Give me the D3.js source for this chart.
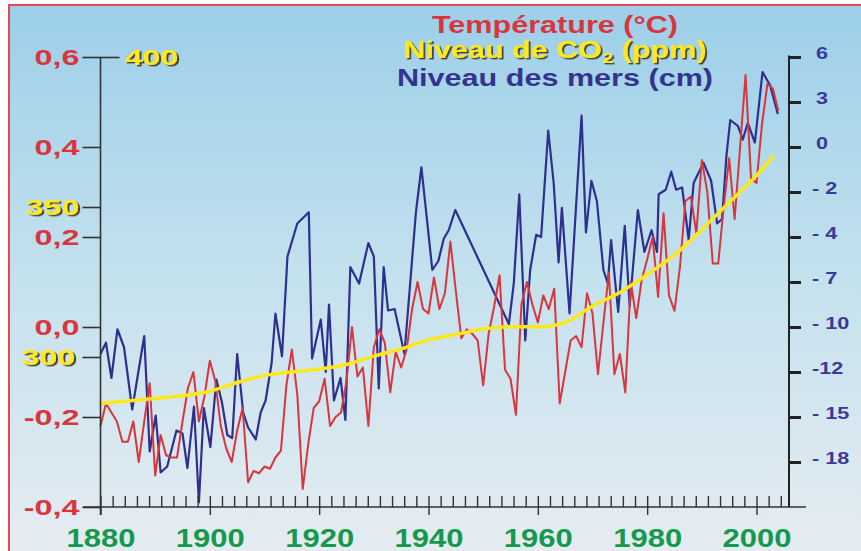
<!DOCTYPE html>
<html><head><meta charset="utf-8">
<script src="https://cdn.jsdelivr.net/npm/d3@7"></script>
<style>
html,body{margin:0;padding:0;background:#fff;}
svg{display:block;}
text{font-family:"Liberation Sans",Arial,sans-serif;font-weight:bold;}
</style></head><body>
<svg id="chart" width="861" height="551"></svg>
<script>
// ---------------- DATA ----------------
const tempYears = d3.range(1880, 2005);
const temperature = [
 -0.22,-0.17,-0.19,-0.21,-0.255,-0.255,-0.21,-0.30,-0.21,-0.125,
 -0.33,-0.24,-0.285,-0.29,-0.29,-0.21,-0.135,-0.10,-0.21,-0.155,
 -0.075,-0.12,-0.22,-0.27,-0.30,-0.23,-0.18,-0.345,-0.32,-0.325,
 -0.31,-0.315,-0.29,-0.275,-0.13,-0.05,-0.15,-0.36,-0.26,-0.18,
 -0.165,-0.115,-0.22,-0.20,-0.19,-0.12,0.00,-0.11,-0.09,-0.22,
 -0.045,-0.005,-0.035,-0.145,-0.055,-0.09,-0.05,0.04,0.10,0.04,
 0.03,0.11,0.04,0.075,0.19,0.08,-0.025,-0.005,-0.015,-0.03,
 -0.13,-0.015,0.045,0.115,-0.095,-0.115,-0.195,0.05,0.10,0.05,
 0.01,0.07,0.04,0.085,-0.17,-0.10,-0.03,-0.02,-0.045,0.075,
 0.03,-0.105,0.01,0.12,-0.105,-0.06,-0.145,0.10,0.02,0.105,
 0.15,0.20,0.067,0.253,0.07,0.036,0.134,0.28,0.29,0.208,
 0.371,0.30,0.141,0.141,0.267,0.375,0.24,0.40,0.56,0.33,
 0.32,0.45,0.54,0.53,0.48
];
const seaYears = [1880.0,1881.0,1882.0,1883.1,1884.3,1885.8,1888.0,1889.0,1890.1,1891.0,
 1892.2,1893.9,1895.0,1895.9,1897.1,1898.0,1898.9,1900.1,1901.2,1902.2,
 1903.2,1904.1,1905.0,1906.1,1907.0,1908.4,1909.3,1910.2,1911.3,1912.0,
 1913.2,1914.2,1916.0,1918.1,1918.7,1920.3,1921.2,1921.8,1922.7,1923.9,
 1924.8,1925.7,1927.3,1929.0,1930.0,1930.9,1931.8,1932.6,1933.8,1935.6,
 1937.7,1938.7,1940.7,1941.8,1942.8,1943.7,1944.9,1954.7,1955.6,1956.6,
 1957.7,1958.6,1959.7,1960.6,1961.9,1962.9,1963.8,1964.4,1965.8,1968.0,
 1968.8,1969.8,1970.8,1972.0,1972.8,1973.4,1974.7,1975.9,1976.8,1978.3,
 1979.5,1980.8,1981.8,1982.1,1983.4,1984.4,1985.3,1986.4,1987.6,1988.5,
 1990.3,1991.7,1992.8,1993.7,1994.5,1995.2,1996.6,1997.5,1998.4,1999.7,
 2001.1,2002.5,2003.9];
const seaLevels = [-11.2,-10.7,-12.4,-10.1,-10.9,-14.5,-10.4,-17.3,-14.9,-18.7,
 -18.3,-15.9,-16.1,-18.4,-14.3,-20.7,-14.4,-17.0,-12.5,-14.0,
 -16.2,-16.4,-11.2,-14.7,-15.7,-16.5,-14.7,-13.9,-11.6,-9.1,
 -11.3,-5.3,-3.4,-2.9,-11.4,-9.5,-12.0,-8.5,-13.9,-12.4,
 -15.2,-6.0,-7.1,-4.4,-5.3,-13.1,-6.0,-8.9,-8.8,-11.2,
 -2.9,-0.9,-6.2,-5.6,-4.1,-3.7,-2.8,-9.8,-7.1,-2.1,
 -10.6,-6.2,-3.9,-4.0,1.1,-1.6,-5.7,-2.7,-9.1,2.1,
 -3.8,-1.5,-2.4,-6.2,-7.1,-4.2,-9.0,-3.5,-8.6,-2.8,
 -5.0,-3.7,-5.0,-2.1,-1.9,-1.1,-1.9,-1.8,-4.2,-1.6,
 -0.7,-1.5,-3.4,-3.2,-0.4,1.8,1.4,0.5,1.6,0.3,
 5.0,4.1,2.2];
const co2Years = [1880,1885,1890,1895,1900,1905,1910,1915,1920,1925,1930,1935,1940,1945,1950,1955,1960,1965,1970,1975,1980,1985,1990,1995,2000,2003];
const co2Values = [284.5,285.3,286.2,287.1,288.6,291.5,293.8,295.0,296.0,297.5,300.3,302.7,305.7,307.5,309.3,310.1,310.0,311.5,317.0,321.5,327.5,334.0,342.5,351.5,360.5,366.8];

const tempTicks = [-0.4,-0.2,0,0.2,0.4,0.6];
const tempTickLabels = ["-0,4","-0,2","0,0","0,2","0,4","0,6"];
const co2Ticks = [300,350,400];
const seaTicks = [6,3,0,-2,-4,-7,-10,-12,-15,-18];
const seaTickLabels = ["6","3","0","- 2","- 4","- 7","- 10","-12","- 15","- 18"];
const yearTicks = [1880,1900,1920,1940,1960,1980,2000];
const legendLabels = ["Température (°C)","Niveau de CO","Niveau des mers (cm)"];

// ---------------- SCALES ----------------
const svg = d3.select("#chart");
const x = d3.scaleLinear().domain([1880,2000]).range([100.5,756.5]);
const yT = d3.scaleLinear().domain([-0.4,0.6]).range([507,57]);
const yC = d3.scaleLinear().domain([300,400]).range([357,57]);
const yS = d3.scaleLinear().domain(seaTicks).range(seaTicks.map((d,i)=>57+i*45));

const RED="#d8363d", NAVY="#2f2f8f", YEL="#ffe81a", GREEN="#15994d", AX="#333";

// ---------------- BACKGROUND ----------------
const defs = svg.append("defs");
const g = defs.append("linearGradient").attr("id","bg").attr("x1",0).attr("y1",0).attr("x2",0).attr("y2",1);
g.append("stop").attr("offset","0%").attr("stop-color","#9ccfe9");
g.append("stop").attr("offset","50%").attr("stop-color","#c4e1ee");
g.append("stop").attr("offset","100%").attr("stop-color","#e5ecf1");
const f = defs.append("filter").attr("id","sh").attr("x","-20%").attr("y","-20%").attr("width","140%").attr("height","140%");
f.append("feDropShadow").attr("dx",1.4).attr("dy",1.4).attr("stdDeviation",0.4).attr("flood-color","#3a3020").attr("flood-opacity",0.9);

svg.append("rect").attr("x",9).attr("y",5).attr("width",852).attr("height",546).attr("fill","url(#bg)");
svg.append("path").attr("d","M9,551V5H861").attr("fill","none").attr("stroke","#e8474f").attr("stroke-width",2);

function stretch(sel, sx){
  sel.each(function(){
    const t=d3.select(this); const xx=+t.attr("x")||0;
    t.attr("x", xx/sx).attr("transform",`scale(${sx},1)`);
  });
}

// ---------------- SERIES ----------------
const seaLine = d3.line().x((d,i)=>x(seaYears[i])).y(d=>yS(d));
svg.append("path").datum(seaLevels).attr("d",seaLine).attr("fill","none")
  .attr("stroke",NAVY).attr("stroke-width",2.2).attr("stroke-linejoin","round");
const tLine = d3.line().x((d,i)=>x(tempYears[i])).y(d=>yT(d));
svg.append("path").datum(temperature).attr("d",tLine).attr("fill","none")
  .attr("stroke",RED).attr("stroke-width",2).attr("stroke-linejoin","round");
const cLine = d3.line().x((d,i)=>x(co2Years[i])).y(d=>yC(d)).curve(d3.curveMonotoneX);
svg.append("path").datum(co2Values).attr("d",cLine).attr("fill","none")
  .attr("stroke",YEL).attr("stroke-width",3.5).attr("stroke-linecap","round");

// ---------------- AXES ----------------
// bottom axis
const minorTicks = [];
for (let s=1880; s<=2000; s+=20) for (let k=1;k<=8;k++){ const v=s+k*20/9; if (v<2005) minorTicks.push(v);} 
svg.append("line").attr("x1",83).attr("x2",806).attr("y1",507).attr("y2",507).attr("stroke",AX).attr("stroke-width",1.6);
const xTop = svg.append("g").attr("transform","translate(0,507)")
  .call(d3.axisTop(x).tickValues(minorTicks.concat(yearTicks)).tickSize(11).tickFormat(""));
xTop.select(".domain").remove();
xTop.selectAll("line").attr("stroke",AX).attr("stroke-width",1.4);
const xBot = svg.append("g").attr("transform","translate(0,507)")
  .call(d3.axisBottom(x).tickValues(yearTicks).tickSize(8).tickPadding(14).tickFormat(d3.format("d")));
xBot.select(".domain").remove();
xBot.selectAll("line").attr("stroke",AX).attr("stroke-width",1.4);
xBot.selectAll("text").attr("fill",GREEN).attr("font-size",25).attr("dy","0.71em")
  .attr("font-family",'"Liberation Sans",Arial,sans-serif').attr("font-weight","bold");
stretch(xBot.selectAll("text"),1.24);

// left axis line
svg.append("line").attr("x1",100.5).attr("x2",100.5).attr("y1",57).attr("y2",515).attr("stroke",AX).attr("stroke-width",1.6);
const yl = svg.append("g").attr("transform","translate(100.5,0)")
  .call(d3.axisLeft(yT).tickValues(tempTicks).tickSize(18).tickPadding(3).tickFormat((d,i)=>tempTickLabels[i]));
yl.select(".domain").remove();
yl.selectAll("line").attr("stroke",AX).attr("stroke-width",1.6);
yl.selectAll("text").attr("fill",RED).attr("font-size",22).attr("dy","0.36em")
  .attr("font-family",'"Liberation Sans",Arial,sans-serif').attr("font-weight","bold");
stretch(yl.selectAll("text"),1.47);

const yc = svg.append("g").attr("transform","translate(100.5,0)")
  .call(d3.axisLeft(yC).tickValues(co2Ticks.slice(0,2)).tickSize(18).tickPadding(3).tickFormat(d3.format("d")));
yc.select(".domain").remove();
yc.selectAll("line").attr("stroke",AX).attr("stroke-width",1.6);
yc.selectAll("text").attr("fill",YEL).attr("font-size",22).attr("dy","0.36em").attr("filter","url(#sh)")
  .attr("font-family",'"Liberation Sans",Arial,sans-serif').attr("font-weight","bold")
  .attr("x",(d)=> d===300 ? -25 : -21);
stretch(yc.selectAll("text"),1.47);
const yc2 = svg.append("g").attr("transform","translate(100.5,0)")
  .call(d3.axisRight(yC).tickValues(co2Ticks.slice(2)).tickSize(19).tickPadding(5).tickFormat(d3.format("d")));
yc2.select(".domain").remove();
yc2.selectAll("line").attr("stroke",AX).attr("stroke-width",1.6);
yc2.selectAll("text").attr("fill",YEL).attr("font-size",22).attr("dy","0.36em").attr("filter","url(#sh)")
  .attr("font-family",'"Liberation Sans",Arial,sans-serif').attr("font-weight","bold");
stretch(yc2.selectAll("text"),1.47);

// right axis
svg.append("line").attr("x1",789).attr("x2",789).attr("y1",55.5).attr("y2",507).attr("stroke","#222").attr("stroke-width",2);
const yr = svg.append("g").attr("transform","translate(789,0)")
  .call(d3.axisRight(yS).tickValues(seaTicks).tickSize(12).tickPadding(11).tickFormat((d,i)=>seaTickLabels[i]));
yr.select(".domain").remove();
yr.selectAll("line").attr("stroke","#222").attr("stroke-width",3);
yr.selectAll("text").attr("fill","#3a3a96").attr("font-size",17).attr("dy","0.06em")
  .attr("font-family",'"Liberation Sans",Arial,sans-serif').attr("font-weight","bold")
  .attr("x",(d,i)=> seaTickLabels[i].startsWith("-") ? 23 : 27);
stretch(yr.selectAll("text"),1.27);

// ---------------- LEGEND ----------------
const leg = svg.append("g").attr("font-size",23);
const lx = 555, sx = 1.33;
leg.append("text").attr("transform",`translate(${lx},33) scale(${sx},1)`).attr("text-anchor","middle")
  .attr("fill",RED).text(legendLabels[0]);
const co2t = leg.append("text").attr("transform",`translate(${lx},58) scale(${sx},1)`).attr("text-anchor","middle")
  .attr("fill",YEL).attr("filter","url(#sh)");
co2t.append("tspan").text(legendLabels[1]);
co2t.append("tspan").attr("font-size",15).attr("dy",5).text("2");
co2t.append("tspan").attr("dy",-5).text(" (ppm)");
leg.append("text").attr("transform",`translate(${lx},86) scale(${sx},1)`).attr("text-anchor","middle")
  .attr("fill","#34348f").text(legendLabels[2]);
</script>
</body></html>
